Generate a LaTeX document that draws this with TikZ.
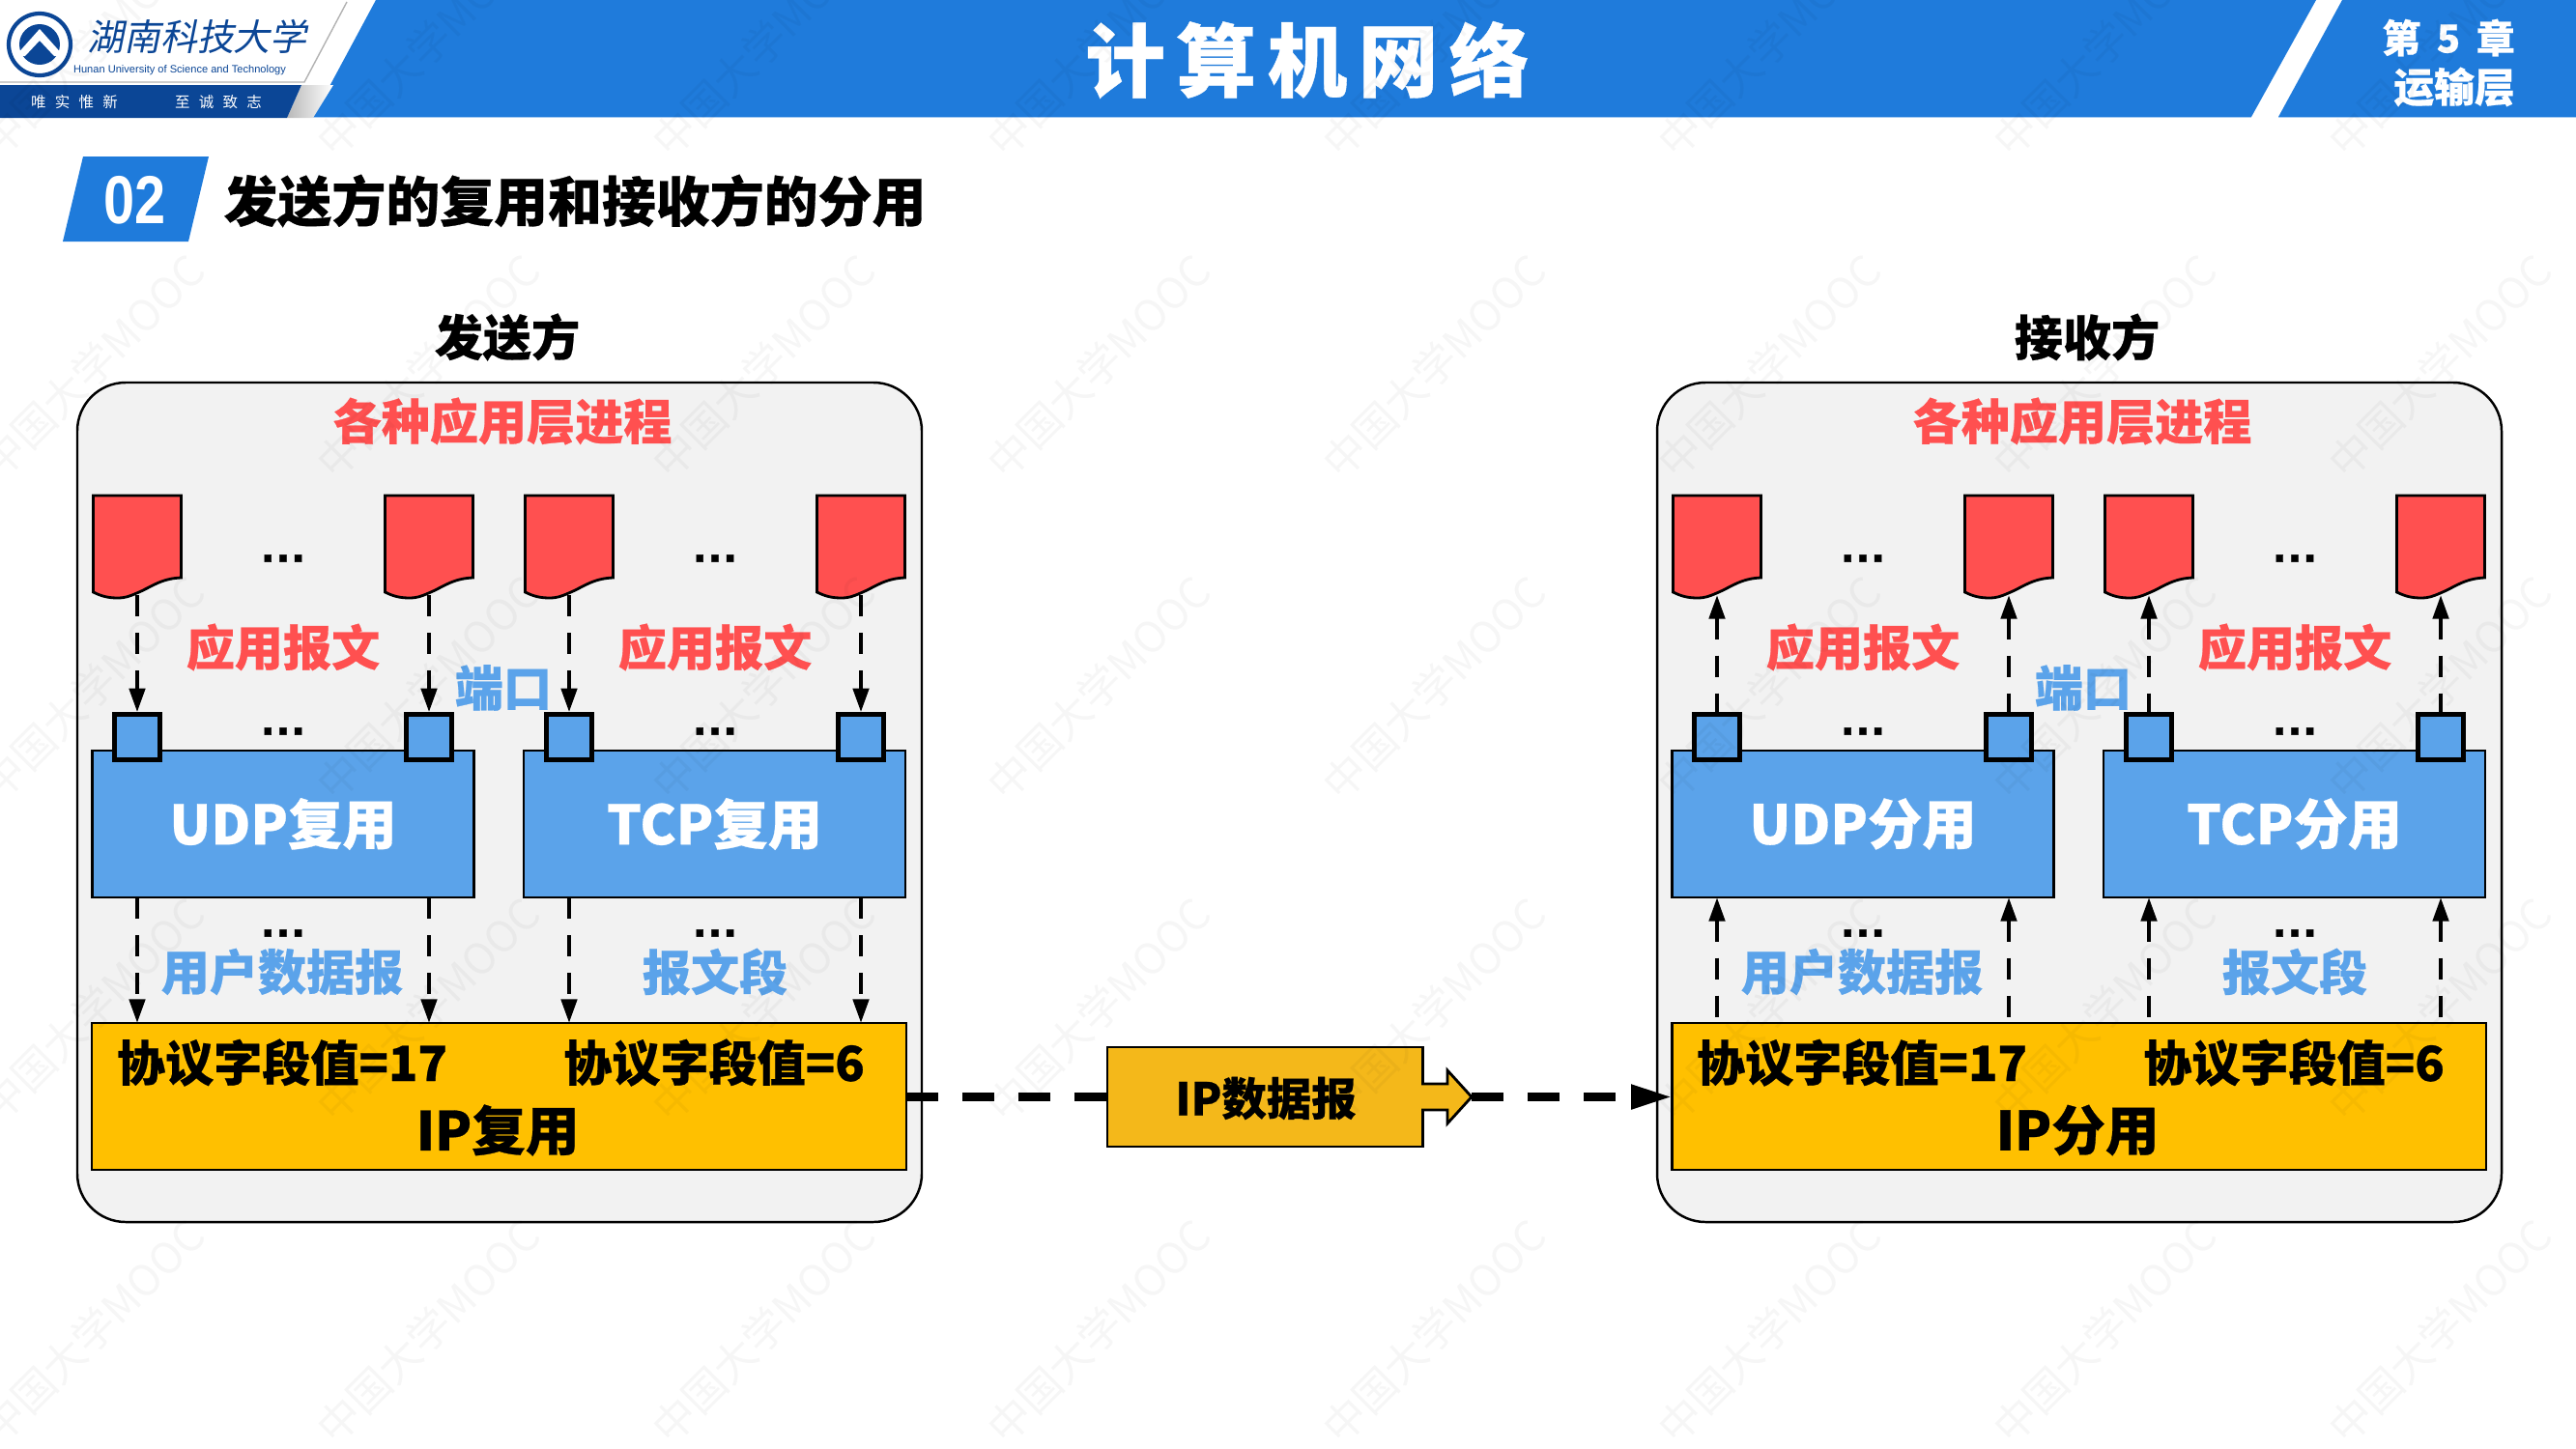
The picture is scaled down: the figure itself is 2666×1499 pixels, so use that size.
\documentclass[tikz,border=0pt]{standalone}
\usepackage{fontspec}
\setmainfont[BoldFeatures={FakeBold=0.5}]{Noto Sans CJK SC}
\newfontfamily\latinbold{Liberation Sans}
\newfontfamily\logofont[FakeSlant=0.2]{Noto Sans CJK SC}
\usepackage{xcolor}
\usetikzlibrary{arrows.meta, calc}
\definecolor{headerblue}{RGB}{31, 123, 219}
\definecolor{logoblue}{RGB}{11, 70, 150}
\definecolor{muxblue}{RGB}{91, 163, 234}
\definecolor{msgred}{RGB}{255, 80, 80}
\definecolor{ipyellow}{RGB}{255, 192, 0}
\definecolor{dgramyellow}{RGB}{244, 184, 26}
\definecolor{panelgray}{RGB}{242, 242, 242}

\begin{document}
\begin{tikzpicture}[
    x=0.01cm, y=-0.01cm,
    lab/.style={inner sep=0pt, font=\fontsize{14.25}{17}\selectfont\bfseries},
    biglab/.style={inner sep=0pt, font=\fontsize{15.8}{18}\selectfont\bfseries},
    panel/.style={draw=black, line width=0.7pt, fill=panelgray, rounded corners=0.5cm},
    mux/.style={rectangle, draw=black, line width=0.7pt, fill=muxblue, outer sep=0pt,
                inner sep=0pt, minimum width=3.95cm, minimum height=1.52cm, text=white},
    ipbox/.style={rectangle, draw=black, line width=0.7pt, fill=ipyellow, outer sep=0pt,
                  inner sep=0pt, minimum width=8.42cm, minimum height=1.52cm},
    msgbox/.style={rectangle, inner sep=0pt, outer sep=0pt, minimum width=0.91cm, minimum height=1.03cm},
    msgshape/.style={draw=black, line width=0.8pt, fill=msgred},
    port/.style={rectangle, draw=black, line width=1.3pt, fill=muxblue, outer sep=0.65pt,
                 inner sep=0pt, minimum size=0.47cm},
    dotsnode/.style={inner sep=0pt, font=\latinbold\fontsize{14}{14}\selectfont\bfseries},
    flow/.style={line width=1.2pt, dash pattern=on 6.3pt off 4.8pt},
    flowdown/.style={flow, -{Triangle[length=7pt, width=4.6pt]}},
    flowup/.style={flow, {Triangle[length=7pt, width=4.6pt]}-},
    linkdash/.style={line width=2.3pt, dash pattern=on 9.4pt off 7.1pt},
    watermark/.style={rotate=45, inner sep=0pt, text=black, opacity=0.035,
                      font=\fontsize{12.5}{15}\selectfont}
]
\useasboundingbox (0,0) rectangle (2666,1499);

% Header
\fill[headerblue] (389,0) -- (2397,0) -- (2330,121) -- (324,121) -- cycle;
\fill[headerblue] (2424,0) -- (2666,0) -- (2666,121) -- (2358,121) -- cycle;
\draw[headerblue!40, line width=0.5pt] (324,121.5) -- (2330,121.5) (2358,121.5) -- (2666,121.5);
\node[inner sep=0pt, text=white, font=\fontsize{23.5}{26}\selectfont\bfseries] (title) at (1353,62)
    {\addfontfeature{LetterSpace=14}计算机网络};
\node[inner sep=0pt, text=white, font=\fontsize{11.4}{14}\selectfont\bfseries] (chap) at (2534,39)
    {第\hspace{0.41em}5\hspace{0.41em}章};
\node[inner sep=0pt, text=white, font=\fontsize{11.9}{14}\selectfont\bfseries] (layer) at (2540,90) {运输层};

% Logo
\shade[left color=gray!55, right color=white] (297,122) -- (312,88) -- (345,88) -- (324,122) -- cycle;
\fill[logoblue] (0,88) -- (312,88) -- (297,122) -- (0,122) -- cycle;
\draw[gray!60, line width=0.4pt] (0,85) -- (315,85) -- (359,2);
\draw[logoblue, line width=1.2pt, fill=white] (41,46) circle (32);
\fill[logoblue] (41,46) circle (21);
\fill[white] (16,58) -- (41,30) -- (66,58) -- (56,58) -- (41,42) -- (26,58) -- cycle;
\node[inner sep=0pt, text=logoblue, font=\logofont\fontsize{10.8}{13}\selectfont] (logoname) at (204,38) {湖南科技大学};
\node[inner sep=0pt, text=logoblue, font=\latinbold\fontsize{3.15}{4}\selectfont] (logoen) at (186,73) {Hunan University of Science and Technology};
\node[inner sep=0pt, text=white, font=\fontsize{4.4}{5}\selectfont] (motto1) at (77,106) {\addfontfeature{LetterSpace=60}唯实惟新};
\node[inner sep=0pt, text=white, font=\fontsize{4.4}{5}\selectfont] (motto2) at (226,106) {\addfontfeature{LetterSpace=60}至诚致志};

% Section heading
\fill[headerblue] (86,162) -- (216,162) -- (195,250) -- (65,250) -- cycle;
\node[inner sep=0pt, text=white, xscale=0.82, font=\latinbold\fontsize{20}{21}\selectfont\bfseries] (secno) at (140,207) {02};
\node[inner sep=0pt, font=\fontsize{15.9}{18}\selectfont\bfseries] (sectitle) at (595,208) {发送方的复用和接收方的分用};

% Sender and receiver
\foreach \side/\dx/\sidename/\word/\flowstyle in {s/0/发送方/复用/flowdown, r/1635/接收方/分用/flowup} {
\begin{scope}[shift={(\dx,0)}]
    \node[lab] (name\side) at (525,349) {\sidename};
    \draw[panel] (80,396) rectangle (954,1265);
    \node[lab, text=msgred] (procs\side) at (520,436) {各种应用层进程};

    \node[mux, font=\fontsize{16}{18}\selectfont\bfseries] (udp\side) at (293,853) {UDP\word};
    \node[mux, font=\fontsize{16}{18}\selectfont\bfseries] (tcp\side) at (739.5,853) {TCP\word};
    \node[ipbox] (ip\side) at (516.5,1135) {};

    \foreach \n/\x/\muxname in {1/142/udp, 2/444/udp, 3/589/tcp, 4/891/tcp} {
        \node[msgbox] (m\side\n) at (\x,564.5) {};
        \draw[msgshape] (m\side\n.north west) -- (m\side\n.north east) -- ++(0,85)
            .. controls +(-22,1) and +(15,-6) .. ++(-46,16)
            .. controls +(-8,3.5) and +(8,0) .. ++(-20,5)
            .. controls +(-10,0) and +(8,4) .. ++(-25,-6) -- cycle;
        \node[port] (p\side\n) at (\x,763) {};
        \draw[\flowstyle] (m\side\n.south) -- (p\side\n.north);
        \draw[\flowstyle] (p\side\n |- \muxname\side.south) -- (p\side\n |- ip\side.north);
    }

    % Dots between the messages
    \foreach \k/\x in {a/293, b/740} {
        \node[dotsnode] (dots\side\k1) at (\x,578) {\addfontfeature{FakeBold=1}…};
        \node[dotsnode] (dots\side\k2) at (\x,757) {\addfontfeature{FakeBold=1}…};
        \node[dotsnode] (dots\side\k3) at (\x,966) {\addfontfeature{FakeBold=1}…};
    }

    \node[lab, text=msgred] (msg\side1) at (293,670) {应用报文};
    \node[lab, text=msgred] (msg\side2) at (740,670) {应用报文};
    \node[lab, text=muxblue] (portlab\side) at (521,712) {端口};
    \node[lab, text=muxblue] (udpdata\side) at (292,1006) {用户数据报};
    \node[lab, text=muxblue] (tcpseg\side) at (740,1006) {报文段};
    \node[lab] (proto\side1) at (292,1100) {协议字段值=17};
    \node[lab] (proto\side2) at (739,1100) {协议字段值=6};
    \node[biglab] (iplab\side) at (515,1170) {IP\word};
\end{scope}
}

% IP datagram
\node[rectangle, draw=black, line width=0.8pt, fill=dgramyellow, outer sep=0pt, inner sep=0pt,
      minimum width=3.26cm, minimum height=1.03cm] (dgram) at (1309,1135.5) {};
\coordinate (dgtip) at (1523,1135.5);
\filldraw[draw=black, line width=0.8pt, fill=dgramyellow] (1471,1122) -- (1498,1122) -- (1498,1108)
    -- (dgtip) -- (1498,1163) -- (1498,1149) -- (1471,1149);
\node[inner sep=0pt, font=\fontsize{13.2}{16}\selectfont\bfseries] (dgramlab) at (1310,1137) {IP数据报};
\draw[linkdash] (ips.east |- dgram) -- (dgram.west);
\draw[linkdash, -{Triangle[length=12pt, width=6.8pt]}] (dgtip) -- (ipr.west |- dgtip);

% Watermarks
\foreach \i in {0,...,7} {
    \foreach \j in {0,...,4} {
        \node[watermark] (wm\i\j) at (96+347*\i,46+333*\j) {中国大学MOOC};
    }
}
\end{tikzpicture}
\end{document}
